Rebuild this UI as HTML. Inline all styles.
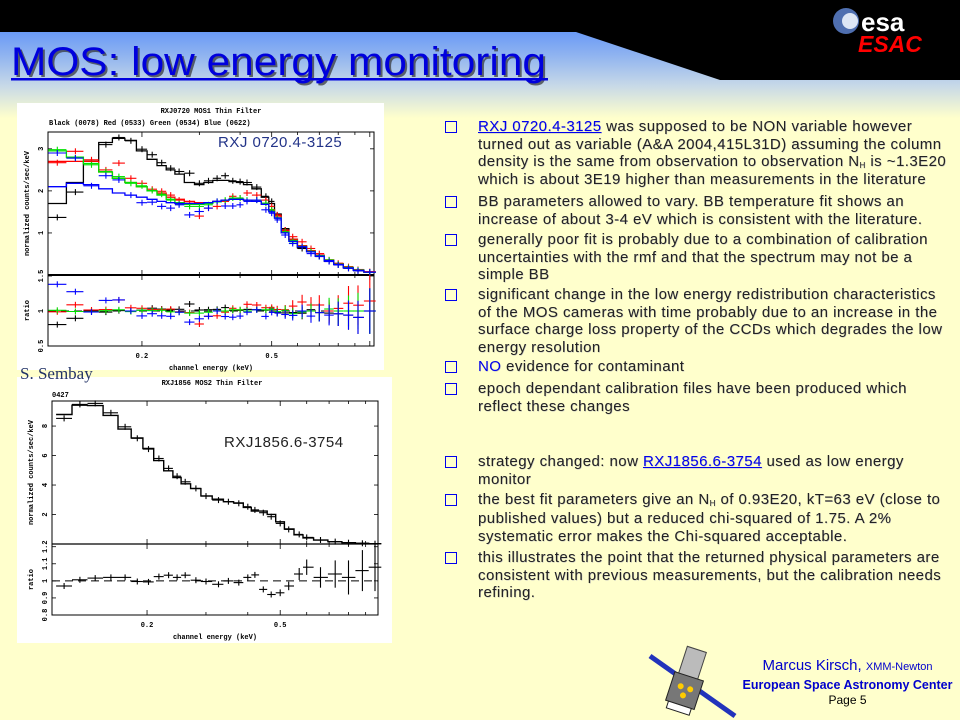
<!DOCTYPE html>
<html><head><meta charset="utf-8">
<style>
html,body{margin:0;padding:0}
body{width:960px;height:720px;position:relative;overflow:hidden;background:#ffffcc;font-family:"Liberation Sans",sans-serif}
.band{position:absolute;left:0;top:0;width:960px;height:120px;background:linear-gradient(#6a9af6 0px,#6a9af6 32px,#8fb3f0 55px,#c6d8e8 85px,#ffffcc 118px)}
.para{position:absolute;left:478px;font-size:15px;letter-spacing:0.45px;line-height:17.7px;color:#222;white-space:nowrap;text-shadow:0.5px 0.5px 0 #bbb}
.para sub{font-size:8px;line-height:0;vertical-align:-2px}
.bx{position:absolute;left:445px;width:10px;height:10px;border:1.3px solid #0000ee}
.lnk{color:#0000ee;text-decoration:underline}
.ft{position:absolute;left:735px;width:225px;text-align:center;color:#0000cc;white-space:nowrap}
</style></head>
<body>
<div class="band"></div>
<svg width="960" height="720" style="position:absolute;left:0;top:0" id="main">
 <polygon points="0,0 960,0 960,80 720,80 576,32 0,32" fill="#000"/>
 <g>
  <circle cx="846" cy="21" r="13" fill="#4f6fb0"/>
  <circle cx="850" cy="21" r="8" fill="#dde6f5"/>
  <text x="861" y="31" font-family="Liberation Sans" font-weight="bold" font-size="26" fill="#fff">esa</text>
  <text x="858" y="52" font-family="Liberation Sans" font-weight="bold" font-style="italic" font-size="23" fill="#ff0000">ESAC</text>
 </g>
 <text x="13" y="77" textLength="535" lengthAdjust="spacingAndGlyphs" font-family="Liberation Sans" font-size="40" fill="#333" opacity="0.7">MOS: low energy monitoring</text>
 <text x="11" y="75" textLength="535" lengthAdjust="spacingAndGlyphs" font-family="Liberation Sans" font-size="40" fill="#0000dd">MOS: low energy monitoring</text>
 <rect x="11" y="78" width="537" height="2.5" fill="#0000dd"/>
 <rect x="17" y="103" width="367" height="267" fill="#fff"/>
 <rect x="17" y="377" width="375" height="266" fill="#fff"/>
 <text x="20" y="379" font-family="Liberation Serif" font-size="17" fill="#223366">S. Sembay</text>
 <g>
  <line x1="650" y1="656" x2="735" y2="716" stroke="#2233bb" stroke-width="5"/>
  <g transform="rotate(18 687 683)">
   <rect x="676" y="648" width="20" height="30" fill="#bbb" stroke="#444"/>
   <rect x="672" y="676" width="30" height="30" fill="#777" stroke="#222"/>
   <circle cx="682" cy="688" r="3" fill="#fc0"/><circle cx="692" cy="688" r="3" fill="#fc0"/><circle cx="687" cy="696" r="3" fill="#fc0"/>
   <rect x="675" y="706" width="24" height="7" fill="#fff" stroke="#222"/>
  </g>
 </g>
 <g id="charts"></g>
</svg>

<div class="bx" style="top:121px"></div>
<div class="para" style="top:118px"><span class="lnk">RXJ 0720.4-3125</span> was supposed to be NON variable however<br>turned out as variable (A&amp;A 2004,415L31D) assuming the column<br>density is the same from observation to observation N<sub>H</sub> is ~1.3E20<br>which is about 3E19 higher than measurements in the literature</div>
<div class="bx" style="top:196px"></div>
<div class="para" style="top:193px">BB parameters allowed to vary. BB temperature fit shows an<br>increase of about 3-4 eV which is consistent with the literature.</div>
<div class="bx" style="top:234px"></div>
<div class="para" style="top:231px">generally poor fit is probably due to a combination of calibration<br>uncertainties with the rmf and that the spectrum may not be a<br>simple BB</div>
<div class="bx" style="top:289px"></div>
<div class="para" style="top:286px">significant change in the low energy redistribution characteristics<br>of the MOS cameras with time probably due to an increase in the<br>surface charge loss property of the CCDs which degrades the low<br>energy resolution</div>
<div class="bx" style="top:361px"></div>
<div class="para" style="top:358px"><span style="color:#0000ee">NO</span> evidence for contaminant</div>
<div class="bx" style="top:383px"></div>
<div class="para" style="top:380px">epoch dependant calibration files have been produced which<br>reflect these changes</div>
<div class="bx" style="top:456px"></div>
<div class="para" style="top:453px">strategy changed: now <span class="lnk">RXJ1856.6-3754</span> used as low energy<br>monitor</div>
<div class="bx" style="top:494px"></div>
<div class="para" style="top:491px;line-height:18.5px">the best fit parameters give an N<sub>H</sub> of 0.93E20, kT=63 eV (close to<br>published values) but a reduced chi-squared of 1.75. A 2%<br>systematic error makes the Chi-squared acceptable.</div>
<div class="bx" style="top:552px"></div>
<div class="para" style="top:549px">this illustrates the point that the returned physical parameters are<br>consistent with previous measurements, but the calibration needs<br>refining.</div>

<div class="ft" style="top:657px;font-size:15px">Marcus Kirsch, <span style="font-size:11px">XMM-Newton</span></div>
<div class="ft" style="top:678px;font-size:12.5px;font-weight:bold">European Space Astronomy Center</div>
<div class="ft" style="top:693px;font-size:12px;color:#000">Page 5</div>

<script>
// ---- Top chart data (RXJ 0720.4-3125) ----
const energiesA = [0.11,0.125,0.14,0.155,0.17,0.185,0.2,0.215,0.23,0.245,0.26,0.28,0.3,0.32,0.34,0.36,0.38,0.40,0.42,0.45,0.48,0.5,0.52,0.55,0.58,0.62,0.66,0.70,0.75,0.80,0.86,0.92,1.0];
const blackData = [1.37,1.97,2.7,3.1,3.27,3.19,2.99,2.86,2.67,2.54,2.46,2.42,2.18,2.24,2.30,2.36,2.24,2.22,2.20,2.09,1.87,1.75,1.43,1.07,0.83,0.63,0.56,0.44,0.32,0.24,0.16,0.10,0.07];
const blackModel = [1.7,2.2,2.7,3.15,3.25,3.2,2.95,2.75,2.6,2.5,2.4,2.2,2.15,2.2,2.25,2.25,2.22,2.2,2.15,2.05,1.85,1.7,1.45,1.1,0.85,0.65,0.55,0.45,0.33,0.25,0.17,0.11,0.07];
const redData = [2.67,2.94,2.74,2.5,2.66,2.3,2.18,2.04,1.99,1.9,1.78,1.71,1.4,1.59,1.63,1.75,1.87,1.83,1.95,1.9,1.78,1.63,1.43,1.07,0.91,0.79,0.63,0.51,0.36,0.28,0.2,0.13,0.08];
const redModel = [2.7,2.7,2.7,2.45,2.3,2.2,2.1,2.0,1.95,1.85,1.8,1.75,1.72,1.72,1.75,1.78,1.8,1.8,1.78,1.75,1.7,1.55,1.4,1.05,0.85,0.7,0.58,0.47,0.36,0.27,0.18,0.12,0.07];
const greenData = [2.98,2.78,2.62,2.46,2.34,2.18,2.12,2.01,1.92,1.78,1.69,1.63,1.63,1.67,1.75,1.78,1.83,1.83,1.78,1.78,1.71,1.55,1.35,1.03,0.79,0.67,0.56,0.45,0.36,0.26,0.18,0.12,0.07];
const greenModel = [2.95,2.8,2.65,2.45,2.3,2.2,2.1,2.0,1.9,1.8,1.72,1.68,1.68,1.7,1.74,1.78,1.8,1.8,1.78,1.75,1.68,1.52,1.36,1.02,0.82,0.68,0.56,0.46,0.35,0.26,0.18,0.12,0.07];
const blueData = [2.9,2.78,2.12,2.36,2.26,1.9,1.72,1.73,1.63,1.59,1.67,1.43,1.51,1.59,1.75,1.64,1.64,1.67,1.75,1.78,1.55,1.47,1.31,0.95,0.75,0.67,0.51,0.44,0.32,0.24,0.16,0.10,0.07];
const blueModel = [2.1,2.18,2.15,2.05,1.95,1.9,1.85,1.8,1.75,1.72,1.7,1.7,1.7,1.72,1.75,1.78,1.8,1.8,1.78,1.75,1.68,1.5,1.35,1.0,0.8,0.67,0.55,0.45,0.34,0.25,0.17,0.11,0.07];
const relErrA = [0.02,0.02,0.02,0.02,0.02,0.02,0.02,0.02,0.02,0.02,0.02,0.02,0.02,0.02,0.02,0.02,0.02,0.02,0.02,0.03,0.03,0.03,0.04,0.05,0.06,0.07,0.08,0.1,0.12,0.14,0.17,0.2,0.25];
const yTicksA = [1,2,3];
const yTickLabelsA = ["1","2","3"];
const ratioTicksA = [0.5,1,1.5];
const ratioTickLabelsA = ["0.5","1","1.5"];
const xTicksA = [0.2,0.5];
const xTickLabelsA = ["0.2","0.5"];

// ---- Bottom chart data (RXJ1856.6-3754) ----
const energiesB = [0.113,0.126,0.14,0.156,0.172,0.187,0.202,0.217,0.232,0.246,0.26,0.28,0.30,0.327,0.35,0.376,0.40,0.42,0.445,0.47,0.5,0.53,0.57,0.6,0.66,0.73,0.8,0.88,0.96];
const countsB = [8.52,9.47,9.54,8.9,7.95,7.17,6.44,5.8,5.13,4.6,4.22,3.77,3.25,2.98,2.87,2.76,2.53,2.31,2.12,1.85,1.4,0.99,0.65,0.45,0.27,0.16,0.09,0.05,0.02];
const ratioB = [0.97,1.006,1.016,1.02,1.02,0.996,0.994,1.025,1.033,1.02,1.033,1.004,0.996,0.98,1.0,0.99,1.02,1.035,0.95,0.92,0.93,0.97,1.04,1.08,1.02,1.04,1.02,1.06,1.08];
const ratioErrB = [0.005,0.004,0.004,0.005,0.005,0.006,0.007,0.007,0.008,0.008,0.009,0.009,0.01,0.01,0.01,0.011,0.012,0.013,0.014,0.016,0.02,0.025,0.035,0.045,0.06,0.08,0.1,0.12,0.14];
const yTicksB = [2,4,6,8];
const yTickLabelsB = ["2","4","6","8"];
const ratioTicksB = [0.8,0.9,1,1.1,1.2];
const ratioTickLabelsB = ["0.8","0.9","1","1.1","1.2"];
const xTicksB = [0.2,0.5];
const xTickLabelsB = ["0.2","0.5"];

const NS = "http://www.w3.org/2000/svg";
const root = document.getElementById("charts");
function mk(parent, tag, attrs, txt){
  const el = document.createElementNS(NS, tag);
  for (const k in attrs) el.setAttribute(k, attrs[k]);
  if (txt !== undefined) el.textContent = txt;
  parent.appendChild(el);
  return el;
}
function makeX(e0,e1,x0,x1){ return e => x0 + Math.log10(e/e0)/Math.log10(e1/e0)*(x1-x0); }
function makeY(v0,v1,p0,p1){ return v => p0 + (v-v0)/(v1-v0)*(p1-p0); }
function binEdges(es){
  return es.map((e,i)=>{
    const lo = i===0 ? e/Math.sqrt(es[1]/es[0]) : Math.sqrt(es[i-1]*e);
    const hi = i===es.length-1 ? e*Math.sqrt(e/es[i-1]) : Math.sqrt(es[i+1]*e);
    return [lo,hi];
  });
}
function stepPath(es, vals, X, Y){
  const ed = binEdges(es);
  let d = "";
  vals.forEach((v,i)=>{
    const yy = Y(v).toFixed(1);
    d += (i===0 ? "M"+X(ed[i][0]).toFixed(1)+","+yy : "V"+yy) + "H"+X(ed[i][1]).toFixed(1);
  });
  return d;
}
function crosses(g, es, vals, errs, X, Y, color, name, clipTop, clipBot){
  const ed = binEdges(es);
  vals.forEach((v,i)=>{
    const cx = X(es[i]);
    const y = Y(v);
    const eu = Math.max(clipTop, Y(v+errs[i])), el2 = Math.min(clipBot, Y(v-errs[i]));
    const h = mk(g,"line",{x1:X(ed[i][0]).toFixed(1),x2:X(ed[i][1]).toFixed(1),y1:y.toFixed(1),y2:y.toFixed(1),stroke:color,"stroke-width":1.1});
    
    
    const vl = mk(g,"line",{x1:cx.toFixed(1),x2:cx.toFixed(1),y1:(Math.min(eu,y-3)).toFixed(1),y2:(Math.max(el2,y+3)).toFixed(1),stroke:color,"stroke-width":1.1});
    
    
  });
}
function axesFrame(g, c){
  const fs = {"font-family":"Liberation Mono","font-size":7,"font-weight":"bold",fill:"#000"};
  const fr = mk(g,"rect",{x:c.x0,y:c.yTop,width:c.x1-c.x0,height:c.yBot-c.yTop,fill:"none",stroke:"#000","stroke-width":1});
  
  
  const sep = mk(g,"line",{x1:c.x0,x2:c.x1,y1:c.yMid,y2:c.yMid,stroke:"#000","stroke-width":c.sepW});
  
  
  for (let dec of [0.1,1]) for (let k=1;k<10;k++){
    const e = dec*k; if (e<c.e0||e>c.e1) continue;
    const x = c.X(e); const L = (k===1||k===2||k===5)?5:3;
    [[c.yMid,-L],[c.yBot,-L],[c.yTop,L],[c.yMid,L]].forEach(([y,d])=>{
      const t = mk(g,"line",{x1:x,x2:x,y1:y,y2:y+d,stroke:"#000","stroke-width":0.8});
      
      
    });
  }
  c.xTicks.forEach((e,i)=>{
    const t = mk(g,"text",Object.assign({x:c.X(e),y:c.yBot+12,"text-anchor":"middle"},fs),c.xLabels[i]);
    
    
  });
  const yl = (v,lab,Y)=>{
    const y = Y(v);
    [[c.x0,4],[c.x1,-4]].forEach(([x,d])=>{
      const t = mk(g,"line",{x1:x,x2:x+d,y1:y,y2:y,stroke:"#000","stroke-width":0.8});
      
      
    });
    const tx = mk(g,"text",Object.assign({x:c.x0-5,y:y,"text-anchor":"middle",transform:`rotate(-90 ${c.x0-5} ${y})`},fs),lab);
    
    
  };
  c.yTicks.forEach((v,i)=>yl(v,c.yLabels[i],c.Y));
  c.rTicks.forEach((v,i)=>yl(v,c.rLabels[i],c.R));
  const yt = mk(g,"text",Object.assign({x:c.x0-19,y:(c.yTop+c.yMid)/2,"text-anchor":"middle",transform:`rotate(-90 ${c.x0-19} ${(c.yTop+c.yMid)/2})`},fs),"normalized counts/sec/keV");
  
  
  const rt = mk(g,"text",Object.assign({x:c.x0-19,y:(c.yMid+c.yBot)/2,"text-anchor":"middle",transform:`rotate(-90 ${c.x0-19} ${(c.yMid+c.yBot)/2})`},fs),"ratio");
  
  
  const xt = mk(g,"text",Object.assign({x:(c.x0+c.x1)/2,y:c.yBot+24,"text-anchor":"middle"},fs),"channel energy (keV)");
  
  
  const dl = mk(g,"line",{x1:c.x0,x2:c.x1,y1:c.R(1),y2:c.R(1),stroke:"#000","stroke-width":1,"stroke-dasharray":"8,5"});
  
  
}

// ---- Top chart ----
const gA = mk(root,"g",{});


const cA = {e0:0.103,e1:1.03,x0:48,x1:374,yTop:132,yMid:275,yBot:346,sepW:2};
cA.X = makeX(cA.e0,cA.e1,cA.x0,cA.x1);
cA.Y = makeY(0,3.4,275,132);
cA.R = makeY(0.5,1.5,346,276);
Object.assign(cA,{xTicks:xTicksA,xLabels:xTickLabelsA,yTicks:yTicksA,yLabels:yTickLabelsA,rTicks:ratioTicksA,rLabels:ratioTickLabelsA});
axesFrame(gA,cA);
const ttlA = {"font-family":"Liberation Mono","font-size":7,"font-weight":"bold",fill:"#000"};
const t1 = mk(gA,"text",Object.assign({x:211,y:113,"text-anchor":"middle"},ttlA),"RXJ0720  MOS1  Thin Filter");


const t2 = mk(gA,"text",Object.assign({x:49,y:125},ttlA),"Black (0078)  Red (0533)  Green (0534)  Blue (0622)");


const t3 = mk(gA,"text",{x:218,y:147,"font-family":"Liberation Sans","font-size":15,fill:"#223388","letter-spacing":"0.5"},"RXJ 0720.4-3125");


const seriesA = [["black-series","#000",blackData,blackModel],["red-series","#ff0000",redData,redModel],["green-series","#00e000",greenData,greenModel],["blue-series","#0000ff",blueData,blueModel]];
seriesA.forEach(([name,col,dat,mod])=>{
  const g = mk(gA,"g",{});
  
  
  const p = mk(g,"path",{d:stepPath(energiesA,mod,cA.X,cA.Y),fill:"none",stroke:col,"stroke-width":1.3});
  
  
  crosses(g,energiesA,dat,dat.map((v,i)=>v*relErrA[i]),cA.X,cA.Y,col,name,cA.yTop,cA.yMid);
  const rat = dat.map((v,i)=>v/mod[i]);
  crosses(g,energiesA,rat,rat.map((v,i)=>v*relErrA[i]*1.3),cA.X,cA.R,col,name+'-ratio',cA.yMid,cA.yBot);
});

// ---- Bottom chart ----
const gB = mk(root,"g",{});


const cB = {e0:0.104,e1:0.98,x0:52,x1:378,yTop:401,yMid:544,yBot:615,sepW:1.2};
cB.X = makeX(cB.e0,cB.e1,cB.x0,cB.x1);
cB.Y = makeY(0,9.7,544,401);
cB.R = makeY(0.8,1.21,615,545);
Object.assign(cB,{xTicks:xTicksB,xLabels:xTickLabelsB,yTicks:yTicksB,yLabels:yTickLabelsB,rTicks:ratioTicksB,rLabels:ratioTickLabelsB});
axesFrame(gB,cB);
const t4 = mk(gB,"text",Object.assign({x:212,y:385,"text-anchor":"middle"},ttlA),"RXJ1856  MOS2  Thin Filter");


const t5 = mk(gB,"text",Object.assign({x:52,y:397},ttlA),"0427");


const t6 = mk(gB,"text",{x:224,y:447,"font-family":"Liberation Sans","font-size":15,fill:"#222","letter-spacing":"0.5"},"RXJ1856.6-3754");


const modelB = countsB.map((v,i)=>v/ratioB[i]);
const pB = mk(gB,"path",{d:stepPath(energiesB,modelB,cB.X,cB.Y),fill:"none",stroke:"#000","stroke-width":1.4});


crosses(gB,energiesB,countsB,countsB.map((v,i)=>v*ratioErrB[i]),cB.X,cB.Y,"#000","spectrum",cB.yTop,cB.yMid);
crosses(gB,energiesB,ratioB,ratioErrB,cB.X,cB.R,"#000","ratio",cB.yMid,cB.yBot);
</script>
</body></html>
